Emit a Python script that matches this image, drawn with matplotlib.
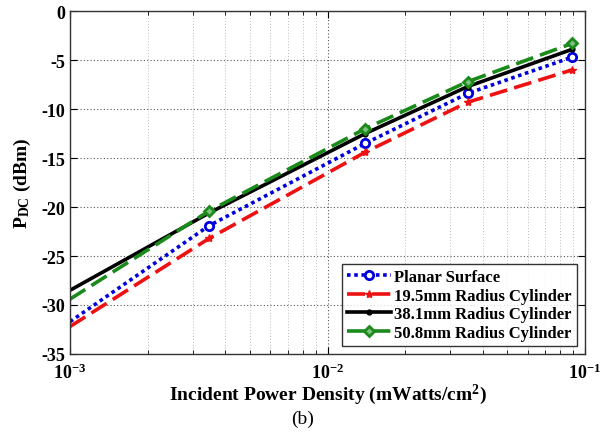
import matplotlib
matplotlib.use("Agg")
import matplotlib.pyplot as plt
import numpy as np

x_vals = [1e-3, 3.47e-3, 1.4e-2, 3.5e-2, 8.9e-2]
planar = [-31.7, -21.9, -13.5, -8.4, -4.7]
r195 = [-32.2, -23.2, -14.4, -9.3, -6.0]
r381 = [-28.5, -20.6, -12.5, -7.7, -3.9]
r508 = [-29.4, -20.4, -12.0, -7.2, -3.3]
labels = ["Planar Surface", "19.5mm Radius Cylinder",
          "38.1mm Radius Cylinder", "50.8mm Radius Cylinder"]

plt.rcParams['font.family'] = ['Liberation Serif', 'DejaVu Serif']
plt.rcParams['axes.unicode_minus'] = False
plt.rcParams['mathtext.fontset'] = 'custom'
plt.rcParams['mathtext.rm'] = 'Liberation Serif:bold'
plt.rcParams['mathtext.bf'] = 'Liberation Serif:bold'
plt.rcParams['mathtext.it'] = 'Liberation Serif:bold'
plt.rcParams['mathtext.default'] = 'bf'

fig = plt.figure(figsize=(6, 4.35), dpi=100)
ax = fig.add_axes([0.1167, 0.184, 0.8583, 0.788])

xm = np.array(x_vals)
lw = 2.6
ax.plot(xm, planar, color='#0000dd', ls=(0, (1, 1)), lw=lw,
        marker='o', ms=6, mfc='white', mew=2, markevery=[1, 2, 3, 4], label=labels[0])
ax.plot(xm, r195, color='#ee1111', ls=(0, (5, 2)), lw=lw,
        marker='*', ms=6, markevery=[1, 2, 3, 4], label=labels[1])
ax.plot(xm, r381, color='black', ls='-', lw=lw,
        marker='.', ms=7, markevery=[1, 2, 3, 4], label=labels[2])
ax.plot(xm, r508, color='#1a8a1a', ls=(0, (5, 2)), lw=lw,
        marker='D', ms=5, mfc='#7fbf7f', mew=2, markevery=[1, 2, 3, 4], label=labels[3])

ax.set_xscale('log')
ax.set_xlim(1e-3, 1e-1)
ax.set_ylim(-35, 0)
ax.set_yticks(np.arange(-35, 1, 5))
ax.grid(True, which='major', color='#555555', ls=(0, (1, 2)), lw=0.8)
ax.grid(True, which='minor', axis='x', color='#bbbbbb', ls=(0, (1, 2)), lw=0.7)
ax.tick_params(which='both', direction='in', top=True, right=True)
ax.tick_params(which='major', length=5, labelsize=13)
ax.tick_params(which='minor', length=3)
ax.tick_params(axis='x', pad=6)
for lab in ax.get_xticklabels() + ax.get_yticklabels():
    lab.set_fontweight('bold')
for s in ax.spines.values():
    s.set_color('#333333')
    s.set_linewidth(1.0)

ax.set_xlabel('Incident Power Density (mWatts/cm$^2$)', fontsize=14,
              fontweight='bold', labelpad=0)
ax.set_ylabel('P$_{DC}$ (dBm)', fontsize=14, fontweight='bold', labelpad=6)

leg = ax.legend(loc='lower right', prop={'weight': 'bold', 'size': 12},
                frameon=True, fancybox=False, edgecolor='black', borderpad=0.3,
                labelspacing=0.15, handlelength=2.6, handletextpad=0.2,
                borderaxespad=0.5)
leg.get_frame().set_linewidth(1.0)

fig.text(0.505, 0.036, '(b)', ha='center', va='center', fontsize=14)

fig.savefig('out.png', dpi=100)
